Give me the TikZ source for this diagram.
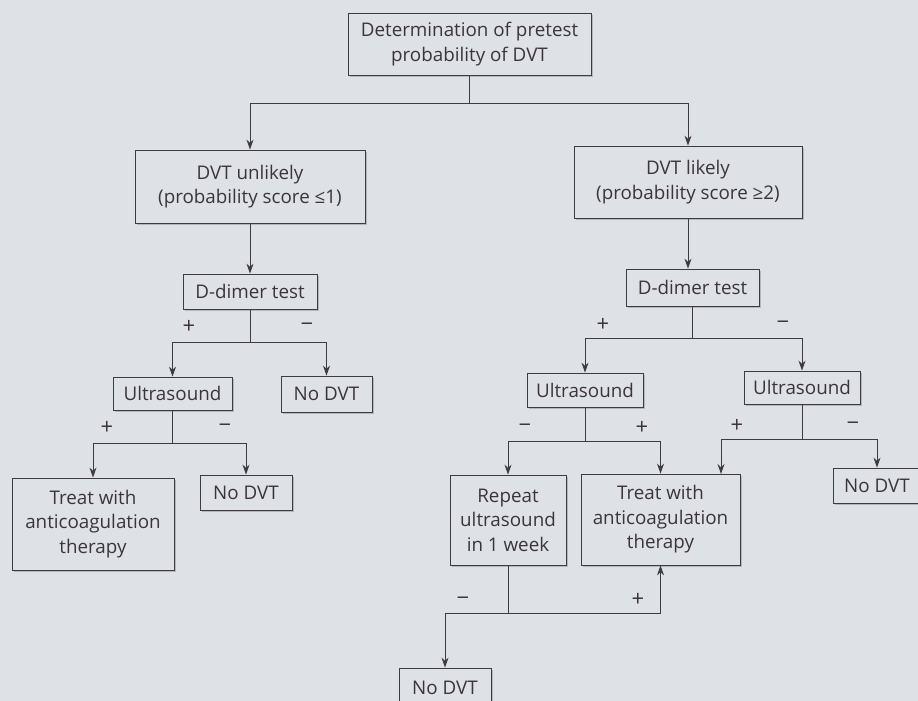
\documentclass[tikz,border=0pt]{standalone}
\usepackage{fontspec}
\setmainfont{Open Sans}
\usetikzlibrary{arrows.meta,shadows}
\definecolor{bg}{RGB}{222,225,229}
\definecolor{ink}{RGB}{60,52,60}
\definecolor{linec}{RGB}{62,60,66}
\begin{document}
\begin{tikzpicture}[x=1pt,y=-1pt,
  box/.style={draw=linec, line width=0.8pt, fill=bg, text=ink, align=center, inner sep=0pt,
    font=\fontsize{18.8}{24.5}\selectfont,
    drop shadow={shadow xshift=1.8pt, shadow yshift=-1.8pt, fill=gray!70, opacity=0.7}},
  wire/.style={draw=linec, line width=0.9pt},
  arr/.style={wire, -{Stealth[length=10pt,width=7pt]}},
  sign/.style={text=ink, font=\fontsize{22}{24}\selectfont, inner sep=0pt}]
\clip (0,0) rectangle (918,701);
\fill[bg] (0,0) rectangle (918,701);

\node[box, minimum width=243pt, minimum height=62pt] (top) at (469.5,44) {Determination of pretest\\probability of DVT};
\node[box, minimum width=230pt, minimum height=73pt] (unl) at (250,186.5) {DVT unlikely\\(probability score ≤1)};
\node[box, minimum width=228pt, minimum height=72pt] (lik) at (688,182) {DVT likely\\(probability score ≥2)};
\node[box, minimum width=134pt, minimum height=35pt] (dd1) at (250,291.5) {D-dimer test};
\node[box, minimum width=133pt, minimum height=37pt] (dd2) at (692.5,287.5) {D-dimer test};
\node[box, minimum width=119pt, minimum height=33pt] (us1) at (172.5,393.5) {Ultrasound};
\node[box, minimum width=91pt, minimum height=36pt] (nd1) at (326.5,394) {No DVT};
\node[box, minimum width=116pt, minimum height=34pt] (us2) at (585,390) {Ultrasound};
\node[box, minimum width=116pt, minimum height=33pt] (us3) at (802,387.5) {Ultrasound};
\node[box, minimum width=162pt, minimum height=92pt] (tr1) at (93,524) {Treat with\\anticoagulation\\therapy};
\node[box, minimum width=92pt, minimum height=35pt] (nd2) at (246,492.5) {No DVT};
\node[box, minimum width=116pt, minimum height=90pt] (rep) at (508,520) {Repeat\\ultrasound\\in 1 week};
\node[box, minimum width=159pt, minimum height=91pt] (tr2) at (660.5,519.5) {Treat with\\anticoagulation\\therapy};
\node[box, minimum width=88pt, minimum height=35pt] (nd3) at (877,485.5) {No DVT};
\node[box, minimum width=92pt, minimum height=40pt] (nd4) at (445,688) {No DVT};

\coordinate (j0) at (469.5,103);
\draw[wire] (top.south) -- (j0);
\draw[arr] (j0) -| (unl.north);
\draw[arr] (j0) -| (lik.north);

\draw[arr] (unl) -- (dd1);
\coordinate (j1) at (250,342);
\draw[wire] (dd1.south) -- (j1);
\draw[arr] (j1) -| (us1.north);
\draw[arr] (j1) -| (nd1.north);

\draw[arr] (lik.south) -- (lik.south |- dd2.north);
\coordinate (j2) at (692.5,338);
\draw[wire] (dd2.south) -- (j2);
\draw[arr] (j2) -| (us2.north);
\draw[arr] (j2) -| (us3.north);

\coordinate (j3) at (172.5,443);
\draw[wire] (us1.south) -- (j3);
\draw[arr] (j3) -| (tr1.north);
\draw[arr] (j3) -| (nd2.north);

\coordinate (j4) at (585,441);
\draw[wire] (us2.south) -- (j4);
\draw[arr] (j4) -| (rep.north);
\draw[arr] (j4) -| (tr2.north);

\coordinate (j5) at (802,439);
\coordinate (tr2in) at (721,474);
\draw[wire] (us3.south) -- (j5);
\draw[arr] (j5) -| (tr2in);
\draw[arr] (j5) -| (nd3.north);

\coordinate (j6) at (508,613);
\draw[wire] (rep.south) -- (j6);
\draw[arr] (j6) -| (nd4.north);
\draw[arr] (j6) -| (tr2.south);

\node[sign] (p1) at (189,327) {+};
\node[sign] (m1) at (307,327) {−};
\node[sign] (p2) at (603,325) {+};
\node[sign] (m2) at (783,325) {−};
\node[sign] (p3) at (107,428) {+};
\node[sign] (m3) at (225,428) {−};
\node[sign] (m4) at (525,428) {−};
\node[sign] (p4) at (642,428) {+};
\node[sign] (p5) at (737,426) {+};
\node[sign] (m5) at (853,426) {−};
\node[sign] (m6) at (463,601) {−};
\node[sign] (p6) at (638,600) {+};
\end{tikzpicture}
\end{document}
